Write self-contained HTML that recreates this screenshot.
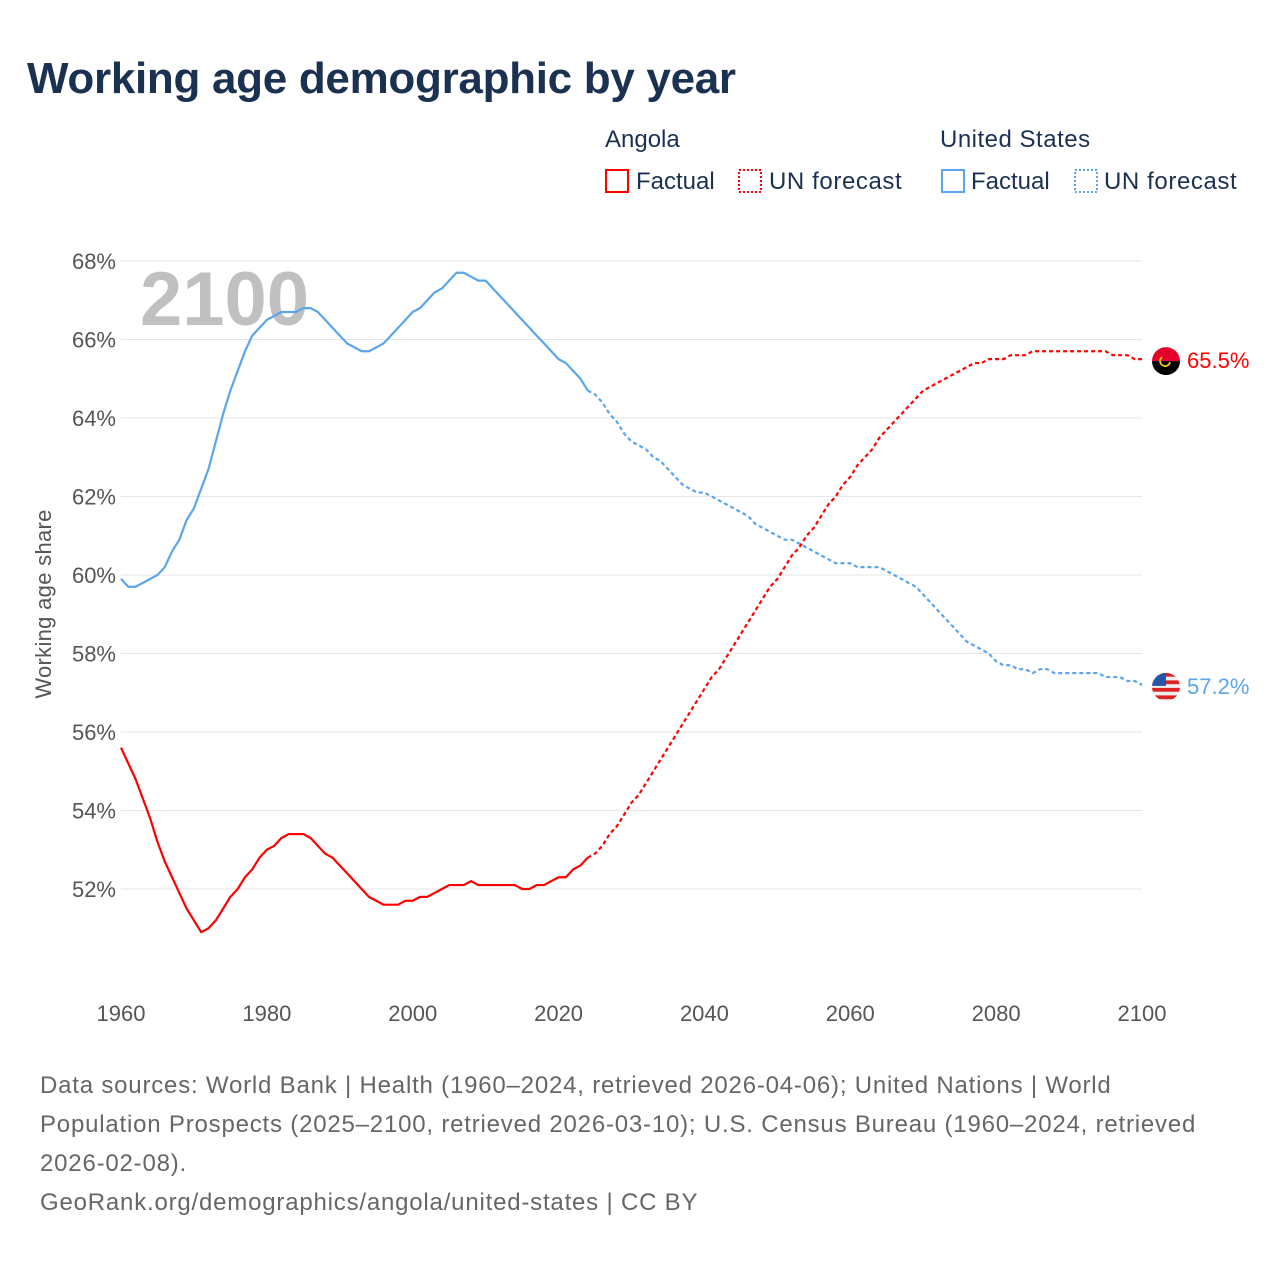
<!DOCTYPE html>
<html><head><meta charset="utf-8">
<style>
body{margin:0;background:#fff;font-family:"Liberation Sans",sans-serif;}
#wrap{position:relative;width:1280px;height:1280px;overflow:hidden;}
</style></head>
<body>
<div id="wrap">
<svg id="chart" width="1280" height="1280">
<text x="27" y="93" font-size="44" font-weight="bold" fill="#1b3152" letter-spacing="-0.3">Working age demographic by year</text>
<g font-size="24" fill="#1b3152">
<text x="605" y="147">Angola</text>
<rect x="606" y="170" width="22" height="22" fill="none" stroke="#ff0000" stroke-width="2"/>
<text x="636" y="189">Factual</text>
<rect x="739" y="170" width="22" height="22" fill="none" stroke="#ff0000" stroke-width="2" stroke-dasharray="2,2"/>
<text x="769" y="189" letter-spacing="0.6">UN forecast</text>
<text x="940" y="147" letter-spacing="0.5">United States</text>
<rect x="942" y="170" width="22" height="22" fill="none" stroke="#5aa5ec" stroke-width="2"/>
<text x="971" y="189">Factual</text>
<rect x="1075" y="170" width="22" height="22" fill="none" stroke="#5aa5ec" stroke-width="2" stroke-dasharray="2,2"/>
<text x="1104" y="189" letter-spacing="0.6">UN forecast</text>
</g>
<text x="140" y="325" font-size="76" font-weight="bold" fill="#c0c0c0">2100</text>
<g id="grid"></g><g id="yticks"></g><g id="xticks"></g><g id="lines"></g><g id="ends"></g>
<text transform="translate(51,604) rotate(-90)" text-anchor="middle" font-size="22" fill="#555" letter-spacing="0.3">Working age share</text>
<g font-size="24" fill="#666" letter-spacing="0.8">
<text x="40" y="1093">Data sources: World Bank | Health (1960–2024, retrieved 2026-04-06); United Nations | World</text>
<text x="40" y="1132">Population Prospects (2025–2100, retrieved 2026-03-10); U.S. Census Bureau (1960–2024, retrieved</text>
<text x="40" y="1171">2026-02-08).</text>
<text x="40" y="1210">GeoRank.org/demographics/angola/united-states | CC BY</text>
</g>
</svg>
</div>
<script>
const yTicks=[52,54,56,58,60,62,64,66,68];
const xTicks=[1960,1980,2000,2020,2040,2060,2080,2100];
const angolaFactual=[55.6,55.2,54.8,54.3,53.8,53.2,52.7,52.3,51.9,51.5,51.2,50.9,51.0,51.2,51.5,51.8,52.0,52.3,52.5,52.8,53.0,53.1,53.3,53.4,53.4,53.4,53.3,53.1,52.9,52.8,52.6,52.4,52.2,52.0,51.8,51.7,51.6,51.6,51.6,51.7,51.7,51.8,51.8,51.9,52.0,52.1,52.1,52.1,52.2,52.1,52.1,52.1,52.1,52.1,52.1,52.0,52.0,52.1,52.1,52.2,52.3,52.3,52.5,52.6,52.8];
const angolaForecast=[52.9,53.1,53.4,53.6,53.9,54.2,54.4,54.7,55.0,55.3,55.6,55.9,56.2,56.5,56.8,57.1,57.4,57.6,57.9,58.2,58.5,58.8,59.1,59.4,59.7,59.9,60.2,60.5,60.7,61.0,61.2,61.5,61.8,62.0,62.3,62.5,62.8,63.0,63.2,63.5,63.7,63.9,64.1,64.3,64.5,64.7,64.8,64.9,65.0,65.1,65.2,65.3,65.4,65.4,65.5,65.5,65.5,65.6,65.6,65.6,65.7,65.7,65.7,65.7,65.7,65.7,65.7,65.7,65.7,65.7,65.7,65.6,65.6,65.6,65.5,65.5];
const usFactual=[59.9,59.7,59.7,59.8,59.9,60.0,60.2,60.6,60.9,61.4,61.7,62.2,62.7,63.4,64.1,64.7,65.2,65.7,66.1,66.3,66.5,66.6,66.7,66.7,66.7,66.8,66.8,66.7,66.5,66.3,66.1,65.9,65.8,65.7,65.7,65.8,65.9,66.1,66.3,66.5,66.7,66.8,67.0,67.2,67.3,67.5,67.7,67.7,67.6,67.5,67.5,67.3,67.1,66.9,66.7,66.5,66.3,66.1,65.9,65.7,65.5,65.4,65.2,65.0,64.7];
const usForecast=[64.6,64.4,64.1,63.9,63.6,63.4,63.3,63.2,63.0,62.9,62.7,62.5,62.3,62.2,62.1,62.1,62.0,61.9,61.8,61.7,61.6,61.5,61.3,61.2,61.1,61.0,60.9,60.9,60.8,60.7,60.6,60.5,60.4,60.3,60.3,60.3,60.2,60.2,60.2,60.2,60.1,60.0,59.9,59.8,59.7,59.5,59.3,59.1,58.9,58.7,58.5,58.3,58.2,58.1,58.0,57.8,57.7,57.7,57.6,57.6,57.5,57.6,57.6,57.5,57.5,57.5,57.5,57.5,57.5,57.5,57.4,57.4,57.4,57.3,57.3,57.2];
const NS="http://www.w3.org/2000/svg";
function X(yr){return 121+(yr-1960)*(1142-121)/140;}
function Y(v){return 889-(v-52)*(889-261)/16;}
function mk(tag,attrs,parent){const e=document.createElementNS(NS,tag);for(const k in attrs)e.setAttribute(k,attrs[k]);parent.appendChild(e);return e;}
const grid=document.getElementById('grid'),yt=document.getElementById('yticks'),xt=document.getElementById('xticks');
yTicks.forEach(v=>{
 const l=mk('line',{x1:121,x2:1142,y1:Y(v),y2:Y(v),stroke:'#e6e6e6','stroke-width':1},grid);
 
 
 const t=mk('text',{x:116,y:Y(v)+8,'text-anchor':'end','font-size':22,fill:'#555'},yt);
 t.textContent=v+'%';
 
 
});
xTicks.forEach(yr=>{
 const t=mk('text',{x:X(yr),y:1021,'text-anchor':'middle','font-size':22,fill:'#555'},xt);
 t.textContent=yr;
 
 
});
const lines=document.getElementById('lines');
function path(vals,start,color,dash,name){
 const d=vals.map((v,i)=>(i?'L':'M')+X(start+i).toFixed(2)+','+Y(v).toFixed(2)).join('');
 const p=mk('path',{d:d,fill:'none',stroke:color,'stroke-width':2.2,'stroke-linejoin':'round'},lines);
 if(dash)p.setAttribute('stroke-dasharray','4,3');
 
 
}
path([usFactual[usFactual.length-1]].concat(usForecast),2024,'#5aa5ec',true,'us-forecast-line');
path(usFactual,1960,'#5aa5ec',false,'us-factual-line');
path([angolaFactual[angolaFactual.length-1]].concat(angolaForecast),2024,'#ff0000',true,'angola-forecast-line');
path(angolaFactual,1960,'#ff0000',false,'angola-factual-line');
const ends=document.getElementById('ends');
const aEnd=angolaForecast[angolaForecast.length-1],uEnd=usForecast[usForecast.length-1];
let g=mk('g',{},ends);


let cy=Y(aEnd)+2;
mk('clipPath',{id:'ca'},g);
mk('circle',{cx:1166,cy:cy,r:14},g.lastChild);
mk('rect',{x:1152,y:cy-14,width:28,height:14,fill:'#e4002b','clip-path':'url(#ca)'},g);
mk('rect',{x:1152,y:cy,width:28,height:14,fill:'#000','clip-path':'url(#ca)'},g);
mk('path',{d:`M${1162},${cy-4} a5,5 0 1,0 8,5`,fill:'none',stroke:'#f5c400','stroke-width':1.8},g);
let t=mk('text',{x:1187,y:Y(aEnd)+9,'font-size':22,fill:'#ff0000'},ends);
t.textContent=aEnd.toFixed(1)+'%';


g=mk('g',{},ends);


cy=Y(uEnd)+2;
mk('clipPath',{id:'cu'},g);
mk('circle',{cx:1166,cy:cy,r:14},g.lastChild);
mk('rect',{x:1152,y:cy-14,width:28,height:28,fill:'#eee','clip-path':'url(#cu)'},g);
for(let i=0;i<4;i++)mk('rect',{x:1152,y:cy-14+i*7.5,width:28,height:3.8,fill:'#d22','clip-path':'url(#cu)'},g);
mk('rect',{x:1152,y:cy-14,width:14,height:13,fill:'#2855a8','clip-path':'url(#cu)'},g);
t=mk('text',{x:1187,y:Y(uEnd)+9,'font-size':22,fill:'#5aa5ec'},ends);
t.textContent=uEnd.toFixed(1)+'%';


</script>
</body></html>
